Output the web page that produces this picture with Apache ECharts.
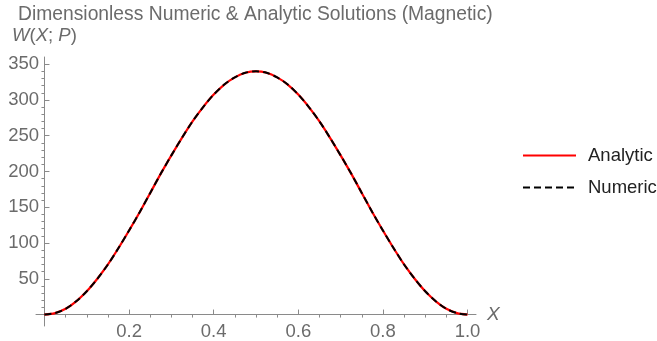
<!DOCTYPE html>
<html>
<head>
<meta charset="utf-8">
<script src="https://cdn.jsdelivr.net/npm/echarts@6/dist/echarts.min.js"></script>
<style>
  html, body { margin: 0; padding: 0; background: #fff; }
  #chart { width: 657px; height: 341px; }
</style>
</head>
<body>
<div id="chart"></div>
<script>
// values
const xValues = [0, 0.025, 0.05, 0.075, 0.1, 0.125, 0.15, 0.175, 0.2, 0.225, 0.25,
  0.275, 0.3, 0.325, 0.35, 0.375, 0.4, 0.425, 0.45, 0.475, 0.5,
  0.525, 0.55, 0.575, 0.6, 0.625, 0.65, 0.675, 0.7, 0.725, 0.75,
  0.775, 0.8, 0.825, 0.85, 0.875, 0.9, 0.925, 0.95, 0.975, 1.0];
const analytic = [0, 2, 8, 18.5, 32.5, 50, 70, 93, 117.5, 143, 170,
  197, 222.5, 247, 270, 290, 307.5, 321.5, 331.5, 338, 340,
  338, 331.5, 321.5, 307.5, 290, 270, 247, 222.5, 197, 170,
  143, 117.5, 93, 70, 50, 32.5, 18.5, 8, 2, 0];
const numeric = [0, 2, 8, 18.5, 32.5, 50, 70, 93, 117.5, 143, 170,
  197, 222.5, 247, 270, 290, 307.5, 321.5, 331.5, 338, 340,
  338, 331.5, 321.5, 307.5, 290, 270, 247, 222.5, 197, 170,
  143, 117.5, 93, 70, 50, 32.5, 18.5, 8, 2, 0];

const xTicks = [0.2, 0.4, 0.6, 0.8, 1.0];
const xMinorTicks = [0.05, 0.1, 0.15, 0.25, 0.3, 0.35, 0.45, 0.5, 0.55,
  0.65, 0.7, 0.75, 0.85, 0.9, 0.95];
const yTicks = [50, 100, 150, 200, 250, 300, 350];
const yMinorTicks = [10, 20, 30, 40, 60, 70, 80, 90, 110, 120, 130, 140,
  160, 170, 180, 190, 210, 220, 230, 240, 260, 270, 280, 290, 310, 320, 330, 340];

const chart = echarts.init(document.getElementById("chart"));

const axisColor = "#8a8a8a";
const labelColor = "#6b6b6b";
const font = "'Liberation Sans', Arial, sans-serif";

const toPairs = (ys) => xValues.map((x, i) => [x, ys[i]]);

const option = {
  animation: false,
  title: {
    text: "Dimensionless Numeric & Analytic Solutions (Magnetic)",
    left: 13,
    top: 0,
    textStyle: { color: labelColor, fontSize: 19.3, fontWeight: "normal", fontFamily: font },
  },
  legend: {
    orient: "vertical",
    left: 517,
    top: 141,
    itemWidth: 53,
    itemHeight: 14,
    itemGap: 13,
    itemStyle: { opacity: 0 },
    textStyle: { color: "#222", fontSize: 18.5, fontFamily: font, padding: [0, 0, 0, 7] },
    data: ["Analytic", "Numeric"],
  },
  grid: { left: 36, top: 57, width: 440, height: 269, outerBoundsMode: "none" },
  xAxis: [
    {
      type: "value",
      min: -0.02,
      max: 1.02,
      name: "X",
      nameLocation: "end",
      nameGap: 11,
      nameTextStyle: { color: labelColor, fontSize: 19, fontStyle: "italic", fontFamily: font },
      axisLine: { onZero: true, lineStyle: { color: axisColor, width: 1 } },
      axisTick: { inside: true, length: 5, customValues: xTicks, lineStyle: { color: axisColor } },
      axisLabel: {
        customValues: xTicks,
        color: labelColor,
        fontSize: 18.5,
        fontFamily: font,
        margin: -4,
        formatter: (v) => v.toFixed(1),
      },
      splitLine: { show: false },
    },
    {
      type: "value",
      min: -0.02,
      max: 1.02,
      axisLine: { show: false, onZero: true },
      axisTick: { inside: true, length: 3, customValues: xMinorTicks, lineStyle: { color: axisColor } },
      axisLabel: { show: false },
      splitLine: { show: false },
    },
  ],
  yAxis: [
    {
      type: "value",
      min: -16,
      max: 360,
      name: "{i|W}({i|X}; {i|P})",
      nameLocation: "end",
      nameGap: 12,
      nameTextStyle: {
        color: labelColor,
        fontSize: 18.5,
        fontFamily: font,
        rich: { i: { fontStyle: "italic", fontSize: 18.5, color: labelColor, fontFamily: font } },
      },
      axisLine: { onZero: true, lineStyle: { color: axisColor, width: 1 } },
      axisTick: { inside: true, length: 5, customValues: yTicks, lineStyle: { color: axisColor } },
      axisLabel: {
        customValues: yTicks,
        color: labelColor,
        fontSize: 18.5,
        fontFamily: font,
        margin: -3,
      },
      splitLine: { show: false },
    },
    {
      type: "value",
      min: -16,
      max: 360,
      axisLine: { show: false, onZero: true },
      axisTick: { inside: true, length: 3, customValues: yMinorTicks, lineStyle: { color: axisColor } },
      axisLabel: { show: false },
      splitLine: { show: false },
    },
  ],
  series: [
    {
      name: "Analytic",
      type: "line",
      data: toPairs(analytic),
      smooth: 0.3,
      symbol: "none",
      lineStyle: { color: "#ff0000", width: 2.2 },
      itemStyle: { color: "#ff0000" },
    },
    {
      name: "Numeric",
      type: "line",
      data: toPairs(numeric),
      smooth: 0.3,
      symbol: "none",
      lineStyle: { color: "#000000", width: 2, type: [7, 4] },
      itemStyle: { color: "#000000" },
    },
  ],
};

chart.setOption(option);
</script>
</body>
</html>
